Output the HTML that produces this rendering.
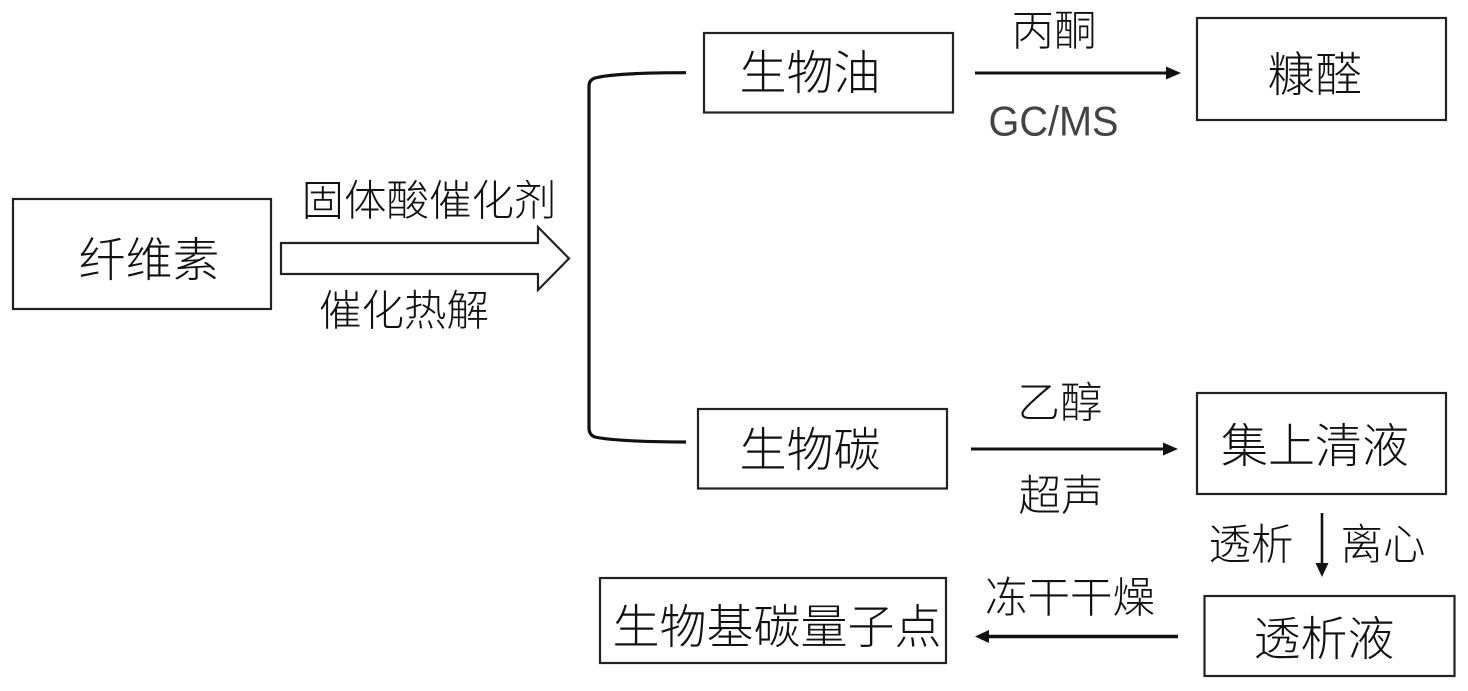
<!DOCTYPE html>
<html lang="zh">
<head>
<meta charset="utf-8">
<style>
html,body{margin:0;padding:0;background:#fff;width:1468px;height:691px;overflow:hidden}
svg{display:block}
text{font-family:"Liberation Sans","Noto Sans CJK SC",sans-serif;font-weight:300;fill:#111;text-anchor:middle;dominant-baseline:central}
.b{fill:#fff;stroke:#222;stroke-width:2.2}
.l{fill:none;stroke:#111;stroke-width:3}
.h{fill:#111}
.s{font-size:42.5px}
.m{font-size:47px}
</style>
</head>
<body>
<svg width="1468" height="691" viewBox="0 0 1468 691" xmlns="http://www.w3.org/2000/svg">
<rect class="b" x="13" y="199" width="258" height="110"/>
<text class="m" x="149" y="260">纤维素</text>
<text class="s" x="429" y="202">固体酸催化剂</text>
<text class="s" x="404" y="312">催化热解</text>
<path d="M281 243H538V227L569 258.500L538 290V274H281Z" fill="#fff" stroke="#222" stroke-width="2.200"/>
<path class="l" style="stroke-width:3.200" d="M686 72.700C650 72.700 610 74 595 78Q589 80 589 86V428Q589 435 595 437C610 440.500 650 442 686 442"/>
<rect class="b" x="704" y="33" width="249" height="79.500"/>
<text class="m" x="810" y="73">生物油</text>
<rect class="b" x="698" y="409" width="249" height="79.500"/>
<text class="m" x="810" y="450">生物碳</text>
<line class="l" x1="975" y1="73" x2="1170" y2="73"/>
<path class="h" d="M1181 73L1166 66.500V79.500Z"/>
<text class="s" x="1054" y="32">丙酮</text>
<text x="1053.500" y="121" font-size="42" textLength="130" lengthAdjust="spacingAndGlyphs" style="fill:#444">GC/MS</text>
<rect class="b" x="1197" y="18" width="249" height="102"/>
<text class="m" x="1315" y="75">糠醛</text>
<line class="l" x1="971" y1="449" x2="1166" y2="449"/>
<path class="h" d="M1178 449L1163 442.500V455.500Z"/>
<text class="s" x="1060" y="404">乙醇</text>
<text class="s" x="1061" y="497">超声</text>
<rect class="b" x="1197" y="393" width="249" height="101"/>
<text class="m" x="1315" y="446">集上清液</text>
<line class="l" style="stroke-width:2.600" x1="1322" y1="513" x2="1322" y2="565"/>
<path class="h" d="M1322 577L1315.500 563H1328.500Z"/>
<text class="s" x="1251" y="546">透析</text>
<text class="s" x="1383" y="546">离心</text>
<rect class="b" x="1204.500" y="596" width="250" height="80"/>
<text class="m" x="1324" y="639">透析液</text>
<line class="l" style="stroke-width:3.500" x1="1178" y1="636.500" x2="987" y2="636.500"/>
<path class="h" d="M975 636.500L989 630V643Z"/>
<text class="s" x="1070" y="599">冻干干燥</text>
<rect class="b" x="600" y="578" width="346" height="85"/>
<text class="m" x="777" y="627">生物基碳量子点</text>
</svg>
</body>
</html>
